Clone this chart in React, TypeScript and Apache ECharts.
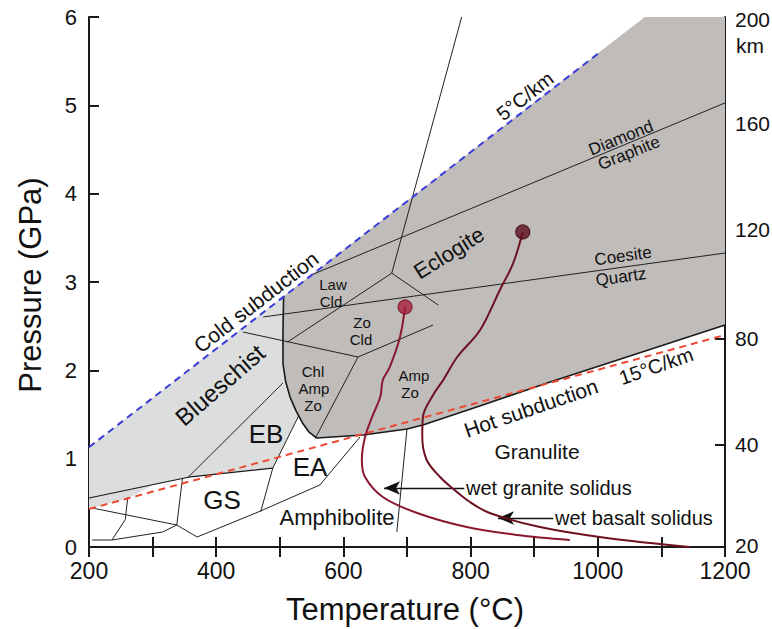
import React, { useEffect, useRef } from 'react';
import * as echarts from 'echarts';

type Pt = [number, number];

// ---- axis ticks / labels ----
const TEMP_LABELS = [200, 400, 600, 800, 1000, 1200];
const PRESSURE_LABELS = [0, 1, 2, 3, 4, 5, 6];
const DEPTH_LABELS = ['20', '40', '80', '120', '160', '200'];
const DEPTH_AT_GPA = [0.02, 1.155, 2.363, 3.589, 4.797, 5.97];
const DEPTH_TICK_GPA = [1.155, 2.363, 3.589, 4.797];

// ---- geotherms ----
const coldGeotherm: Pt[] = [[200, 1.13], [1003, 5.6]];
const hotGeotherm: Pt[] = [[200, 0.43], [1200, 2.4]];

// ---- filled regions (T °C, P GPa) ----
const eclogiteRegion: Pt[] = [
  [506, 2.84], [1074, 6.0], [1200, 6.0], [1200, 2.513], [925, 1.868], [819, 1.608],
  [725, 1.381], [700, 1.336], [631, 1.268], [558, 1.234], [546, 1.3], [536, 1.4],
  [525, 1.55], [516, 1.7], [509, 1.88], [505, 2.08], [505, 2.45],
];
const blueschistRegion: Pt[] = [
  [200, 1.13], [506, 2.84], [505, 2.45], [505, 2.08], [509, 1.88], [516, 1.7],
  [525, 1.55], [530, 1.49], [489, 0.894], [356, 0.79], [300, 0.7], [262, 0.552], [200, 0.43],
];

// ---- boundaries ----
const eclogiteBoundary: Pt[] = [
  [506, 2.84], [505, 2.45], [505, 2.08], [509, 1.88], [516, 1.7], [525, 1.55], [536, 1.4],
  [546, 1.3], [558, 1.234], [631, 1.268], [700, 1.336], [725, 1.381], [819, 1.608],
  [925, 1.868], [1200, 2.513],
];
const blueschistLower: Pt[] = [[200, 0.555], [356, 0.79], [489, 0.894]];

// ---- phase lines ----
const diamondGraphite: Pt[] = [[551, 3.084], [1200, 5.027]];
const coesiteQuartz: Pt[] = [[474, 2.604], [1200, 3.328]];
const steepLine: Pt[] = [[786, 6.0], [676, 3.1]];
const junction1West: Pt[] = [[676, 3.1], [512, 2.32]];
const junction1East: Pt[] = [[676, 3.1], [749, 2.74]];
const blueschistLine: Pt[] = [[442, 2.434], [623, 2.151]];
const junction2East: Pt[] = [[623, 2.151], [741, 2.513]];
const junction2South: Pt[] = [[623, 2.151], [556, 1.234]];
const blueschistEB: Pt[] = [[505, 1.857], [356, 0.79]];
const amphGranulite: Pt[] = [[700, 1.336], [684, 0.17]];
const eaLower: Pt[] = [[626, 1.245], [563, 0.702], [466, 0.396], [370, 0.113]];
const gsUpper: Pt[] = [[205, 0.442], [338, 0.249], [370, 0.113]];
const gsVertical: Pt[] = [[347, 0.78], [338, 0.249]];
const gsBottom: Pt[] = [[338, 0.249], [316, 0.17], [236, 0.079], [205, 0.079]];
const gsLeft: Pt[] = [[261, 0.566], [257, 0.31], [236, 0.079]];
const eaGsDivide: Pt[] = [[530, 1.49], [489, 0.894], [470, 0.4]];

// ---- solidi ----
const graniteSolidus: Pt[] = [
  [697, 2.717], [689, 2.377], [673, 2.038], [662, 1.89], [658, 1.7], [645, 1.47],
  [634, 1.245], [629, 0.985], [634, 0.792], [662, 0.566], [716, 0.385], [794, 0.226],
  [873, 0.136], [956, 0.079],
];
const basaltSolidus: Pt[] = [
  [882, 3.566], [867, 3.215], [846, 2.909], [815, 2.457], [779, 2.151], [757, 1.891],
  [741, 1.72], [725, 1.472], [724, 1.245], [731, 0.985], [752, 0.792], [771, 0.668],
  [799, 0.509], [830, 0.385], [909, 0.226], [1014, 0.102], [1145, 0.0],
];
const graniteArrow: Pt[] = [[790, 0.668], [664, 0.668]];
const basaltArrow: Pt[] = [[930, 0.328], [843, 0.328]];

const FONT = '"Liberation Sans", Arial, Helvetica, sans-serif';
const LIGHT = '#dcdddd';
const DARK = '#bfbcba';
const INK = '#1a1a1a';

function lineSeries(data: Pt[], color: string, width: number, type: any = 'solid', z = 3, smooth: any = false) {
  return {
    type: 'line', data, symbol: 'none', showSymbol: false, smooth, silent: true,
    lineStyle: { color, width, type, cap: 'butt', join: 'round' }, z, clip: true,
  };
}

function polySeries(points: Pt[], fill: string, z = 1) {
  return {
    type: 'custom', data: [points[0]], encode: { x: 0, y: 1 }, silent: true, z, clip: true,
    renderItem: (_p: any, api: any) => ({
      type: 'polygon',
      shape: { points: points.map((p) => api.coord(p)) },
      style: { fill },
    }),
  };
}

function txt(text: string, x: number, y: number, size: number, rot = 0, extra: any = {}) {
  return {
    type: 'text', x, y, rotation: (rot * Math.PI) / 180, silent: true, z: 100,
    style: { text, fontSize: size, fontFamily: FONT, fill: '#111', align: 'center', verticalAlign: 'middle', ...extra },
  };
}

export default function App() {
  const ref = useRef<HTMLDivElement>(null);
  useEffect(() => {
    document.body.style.margin = '0';
    if (!ref.current) return;
    const chart = echarts.init(ref.current, undefined, { renderer: 'svg' });
    const axisLine = { show: true, lineStyle: { color: INK, width: 2 } };
    const axisTick = { show: true, inside: true, length: 10, lineStyle: { color: INK, width: 2 } };
    const option: any = {
      animation: false,
      backgroundColor: '#ffffff',
      grid: { left: 89, right: 47, top: 17, bottom: 82, containLabel: false, outerBoundsMode: 'none' },
      xAxis: [
        {
          type: 'value', min: 200, max: 1200, interval: 100, position: 'bottom',
          axisLine, axisTick, splitLine: { show: false },
          axisLabel: {
            margin: 12, fontSize: 23, fontFamily: FONT, color: '#111',
            formatter: (v: number) => (TEMP_LABELS.includes(v) ? String(v) : ''),
          },
        },
        {
          type: 'value', min: 200, max: 1200, interval: 100, position: 'top',
          axisLine, axisTick, splitLine: { show: false }, axisLabel: { show: false },
        },
      ],
      yAxis: [
        {
          type: 'value', min: 0, max: 6, interval: 1, position: 'left',
          axisLine, axisTick, splitLine: { show: false },
          axisLabel: {
            margin: 12, fontSize: 22, fontFamily: FONT, color: '#111',
            formatter: (v: number) => (PRESSURE_LABELS.includes(v) ? String(v) : ''),
          },
        },
        {
          type: 'value', min: 0, max: 6, position: 'right',
          axisLine, splitLine: { show: false },
          axisTick: { ...axisTick, customValues: DEPTH_TICK_GPA },
          axisLabel: {
            margin: 10, fontSize: 21, fontFamily: FONT, color: '#111',
            customValues: DEPTH_AT_GPA,
            formatter: (v: number) => {
              const i = DEPTH_AT_GPA.findIndex((d) => Math.abs(d - v) < 1e-6);
              return i >= 0 ? DEPTH_LABELS[i] : '';
            },
          },
        },
      ],
      series: [
        polySeries(blueschistRegion, LIGHT, 1),
        polySeries(eclogiteRegion, DARK, 1),
        lineSeries(eclogiteBoundary, INK, 1.6, 'solid', 4),
        lineSeries(blueschistLower, INK, 1.2, 'solid', 4),
        ...[diamondGraphite, coesiteQuartz, steepLine, junction1West, junction1East, blueschistLine,
          junction2East, junction2South, blueschistEB, amphGranulite, eaLower, gsUpper, gsVertical,
          gsBottom, gsLeft, eaGsDivide].map((d) => lineSeries(d, '#222', 1, 'solid', 3)),
        lineSeries(coldGeotherm, '#3b3ddb', 2, [7, 5], 5),
        lineSeries(hotGeotherm, '#ec4a34', 2, [7, 5], 5),
        lineSeries(graniteSolidus, '#8a1830', 2, 'solid', 6, 0.35),
        lineSeries(basaltSolidus, '#6e1222', 2, 'solid', 6, 0.35),
        {
          type: 'line', data: [], silent: true, z: 7,
          markLine: {
            silent: true, symbol: ['none', 'arrow'], symbolSize: [10, 16],
            label: { show: false },
            lineStyle: { color: '#111', width: 1.4, type: 'solid' },
            data: [
              [{ coord: graniteArrow[0] }, { coord: graniteArrow[1] }],
              [{ coord: basaltArrow[0] }, { coord: basaltArrow[1] }],
            ],
          },
        },
        {
          type: 'scatter', silent: true, z: 8, symbolSize: 14,
          data: [graniteSolidus[0]],
          itemStyle: { color: '#a61f3c', borderColor: '#7a1228', borderWidth: 1.2 },
        },
        {
          type: 'scatter', silent: true, z: 8, symbolSize: 14,
          data: [basaltSolidus[0]],
          itemStyle: { color: '#5e0f1c', borderColor: '#3a0810', borderWidth: 1.2 },
        },
      ],
      graphic: [
        txt('Pressure (GPa)', 30, 285, 31, 90),
        txt('Temperature (°C)', 405, 609, 31),
        txt('km', 750, 45, 21),
        txt('Cold subduction', 256, 302, 21, 37.7),
        txt('5°C/km', 525, 96, 20, 37.7),
        txt('Blueschist', 220, 385, 24, 41),
        txt('EB', 266, 434, 26),
        txt('EA', 310, 467, 26),
        txt('GS', 222, 500, 26),
        txt('Amphibolite', 337, 517, 22),
        txt('Granulite', 537, 451, 21),
        txt('Hot subduction', 531, 408, 21, 19),
        txt('15°C/km', 656, 366, 20, 19),
        txt('Eclogite', 449, 253, 22, 32),
        txt('Law', 333, 284, 15),
        txt('Cld', 331, 301, 15),
        txt('Zo', 362, 322, 15),
        txt('Cld', 361, 339, 15),
        txt('Chl', 313, 371, 15),
        txt('Amp', 314, 388, 15),
        txt('Zo', 313, 405, 15),
        txt('Amp', 414, 375, 15),
        txt('Zo', 410, 392, 15),
        txt('Diamond', 621, 138, 17, 22),
        txt('Graphite', 629, 153, 17, 22),
        txt('Coesite', 623, 256, 17, 8),
        txt('Quartz', 621, 277, 17, 8),
        txt('wet granite solidus', 466, 488, 20, 0, { align: 'left' }),
        txt('wet basalt solidus', 555, 518, 20, 0, { align: 'left' }),
      ],
    };
    chart.setOption(option);
    return () => chart.dispose();
  }, []);
  return <div ref={ref} style={{ width: 772, height: 629 }} />;
}
